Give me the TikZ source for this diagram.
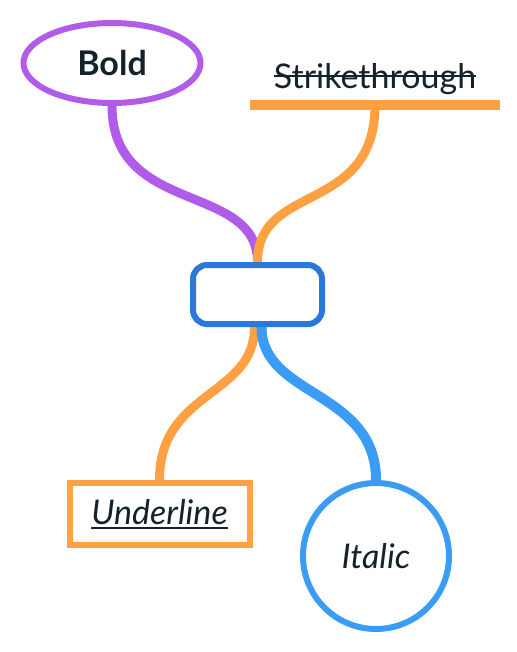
\documentclass[tikz,border=0pt]{standalone}
\usepackage{fontspec}
\setmainfont{Lato}
\usetikzlibrary{shapes,positioning,backgrounds}

\definecolor{inkdark}{HTML}{14232B}
\definecolor{mapviolet}{HTML}{B05CE8}
\definecolor{maporange}{HTML}{FFA043}
\definecolor{hubblue}{HTML}{2B78DC}
\definecolor{mapblue}{HTML}{3A9CF5}

\newsavebox\wordbox
\newcommand\crossout[1]{\sbox\wordbox{#1}\rlap{\rule[0.34em]{\wd\wordbox}{2pt}}\usebox\wordbox}
\newcommand\underout[1]{\sbox\wordbox{#1}\rlap{\rule[-4pt]{\wd\wordbox}{2pt}}\usebox\wordbox}

\begin{document}
\begin{tikzpicture}[x=1pt,y=-1pt]
    \tikzset{
        hubbox/.style = {rectangle, draw=hubblue, fill=white, line width=6pt, rounded corners=14pt, minimum width=129pt, minimum height=59pt},
        ovalbox/.style = {ellipse, draw=mapviolet, fill=white, line width=6pt, minimum width=177pt, minimum height=80pt, inner sep=0pt},
        barbox/.style = {rectangle, minimum width=250pt, inner xsep=0pt, inner ysep=10pt},
        squarebox/.style = {rectangle, draw=maporange, fill=white, line width=6pt, minimum width=180pt, minimum height=62pt},
        roundbox/.style = {circle, draw=mapblue, fill=white, line width=6pt, minimum size=146pt, inner sep=0pt},
        label/.style = {text=inkdark, font=\fontsize{34}{40}\selectfont},
        line/.style = {line width=9pt},
    }
    \useasboundingbox (0,0) rectangle (516,652);

    \node[hubbox](hub) at (257.5,294.5){};

    \node[ovalbox, label](bold) at (112,63){\bfseries Bold};
    \node[barbox, label, anchor=south](strike) at (375,105){\crossout{Strikethrough}};
    \draw[maporange, line width=10pt] (strike.south west) -- (strike.south east);

    \node[squarebox, label](under) at (159.5,514){\itshape\underout{Underline}};
    \node[roundbox, label](italic) at (376,556){\itshape Italic};

    \begin{pgfonlayer}{background}
    \path [line, draw=mapviolet] (bold.south) .. controls +(0,110) and +(0,-80) .. (hub.north);
    \path [line, draw=maporange] (strike.south) .. controls +(0,110) and +(0,-80) .. (hub.north);
    \path [line, draw=maporange] ([xshift=-3pt]hub.south) .. controls +(0,70) and +(0,-90) .. (under.north);
    \path [line, draw=mapblue, line width=10pt] ([xshift=4pt]hub.south) .. controls +(0,70) and +(0,-90) .. (italic.north);
    \end{pgfonlayer}
\end{tikzpicture}
\end{document}
